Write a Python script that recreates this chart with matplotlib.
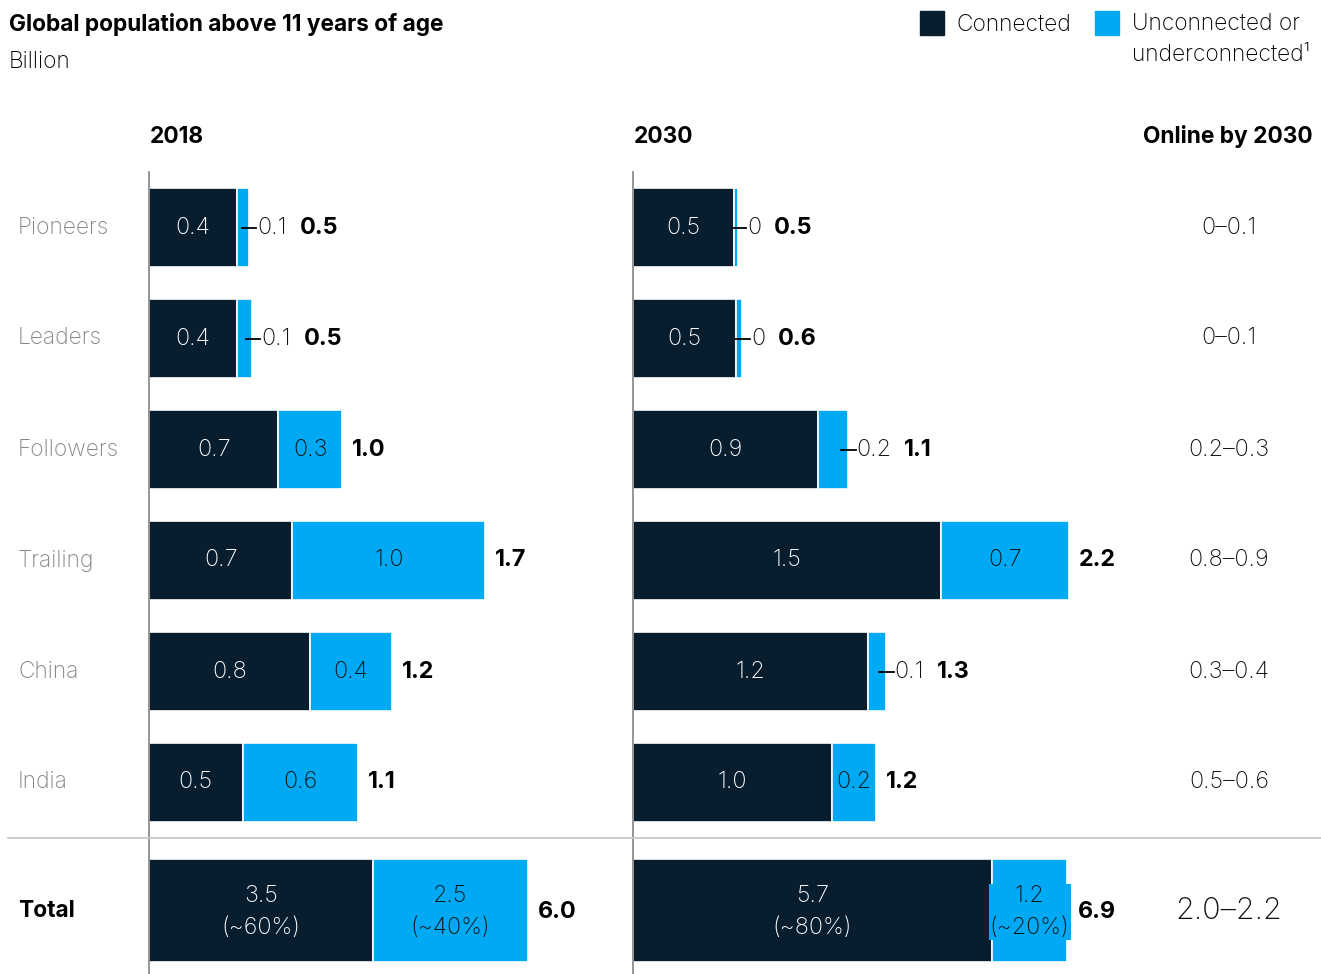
import matplotlib.pyplot as plt
from matplotlib.patches import Rectangle
from matplotlib.lines import Line2D

plt.rcParams['font.family'] = ['Inter', 'DejaVu Sans']
plt.rcParams['font.weight'] = 'light'

# ---- data (billion people) ----
segments = ["Pioneers", "Leaders", "Followers", "Trailing", "China", "India"]

# bar lengths, labels as printed
conn_2018 = [0.44, 0.44, 0.65, 0.72, 0.81, 0.47]
unconn_2018 = [0.06, 0.08, 0.32, 0.97, 0.41, 0.58]
conn_2030 = [0.51, 0.52, 0.93, 1.55, 1.18, 1.00]
unconn_2030 = [0.02, 0.03, 0.15, 0.64, 0.09, 0.22]

conn_lbl_2018 = ["0.4", "0.4", "0.7", "0.7", "0.8", "0.5"]
unconn_lbl_2018 = ["0.1", "0.1", "0.3", "1.0", "0.4", "0.6"]
total_lbl_2018 = ["0.5", "0.5", "1.0", "1.7", "1.2", "1.1"]
conn_lbl_2030 = ["0.5", "0.5", "0.9", "1.5", "1.2", "1.0"]
unconn_lbl_2030 = ["0", "0", "0.2", "0.7", "0.1", "0.2"]
total_lbl_2030 = ["0.5", "0.6", "1.1", "2.2", "1.3", "1.2"]

online_2030 = ["0\u20130.1", "0\u20130.1", "0.2\u20130.3", "0.8\u20130.9", "0.3\u20130.4", "0.5\u20130.6"]

total_conn = [3.53, 5.66]
total_unconn = [2.45, 1.19]
total_conn_lbl = ["3.5\n(~60%)", "5.7\n(~80%)"]
total_unconn_lbl = ["2.5\n(~40%)", "1.2\n(~20%)"]
total_sum_lbl = ["6.0", "6.9"]
total_online = "2.0\u20132.2"

years = ["2018", "2030"]

DARK = "#081d2e"
BLUE = "#00a9f4"
GREY = "#858585"
INK = "#111111"

W, H = 1321, 974
fig = plt.figure(figsize=(W / 100, H / 100), dpi=100)


def box(x0, y0, x1, y1):
    return [x0 / W, 1 - y1 / H, (x1 - x0) / W, (y1 - y0) / H]


PX_ROW = 199.0   # pixels per billion, segment rows
PX_TOT = 63.4    # pixels per billion, total row
FS = 16.8        # numbers
FL = 16.4        # labels


def style(ax):
    for s in ["top", "right", "bottom"]:
        ax.spines[s].set_visible(False)
    ax.spines["left"].set_color("#8c8c8c")
    ax.spines["left"].set_linewidth(1.3)
    ax.set_xticks([])
    ax.set_yticks([])
    ax.patch.set_alpha(0)


panels = [
    (149, conn_2018, unconn_2018, conn_lbl_2018, unconn_lbl_2018, total_lbl_2018),
    (633, conn_2030, unconn_2030, conn_lbl_2030, unconn_lbl_2030, total_lbl_2030),
]

for i, (x0, conn, unconn, cl, ul, tl) in enumerate(panels):
    ax = fig.add_axes(box(x0, 172, x0 + 470, 838))
    style(ax)
    ax.set_xlim(0, 470 / PX_ROW)
    ax.set_ylim(len(segments) - 0.5, -0.5)
    ys = range(len(segments))
    ax.barh(ys, conn, height=0.72, color=DARK, edgecolor="white", linewidth=1.2)
    ax.barh(ys, unconn, left=conn, height=0.72, color=BLUE, edgecolor="white", linewidth=1.2)
    for y in ys:
        end = conn[y] + unconn[y]
        ax.text(conn[y] / 2, y, cl[y], color="white", ha="center", va="center",
                fontsize=FS)
        if unconn[y] >= 0.2:
            ax.text(conn[y] + unconn[y] / 2, y, ul[y], color=INK, ha="center",
                    va="center", fontsize=FS)
            ax.text(end + 0.05, y, tl[y], color="black", ha="left", va="center",
                    fontsize=FS, fontweight="bold")
        else:
            ax.plot([end - 0.035, end + 0.04], [y, y], color="black", lw=1.3)
            small = ax.text(end + 0.045, y, ul[y], color=INK, ha="left",
                            va="center", fontsize=FS)
            ax.annotate(tl[y], xy=(1, 0.5), xycoords=small, xytext=(9, 0),
                        textcoords="offset points", ha="left", va="center",
                        fontsize=FS, fontweight="bold", color="black")

    # total row
    axt = fig.add_axes(box(x0, 838, x0 + 470, 974))
    style(axt)
    axt.set_xlim(0, 470 / PX_TOT)
    axt.set_ylim(-64, 72)
    axt.barh([0], [total_conn[i]], height=103, color=DARK, edgecolor="white", linewidth=1.2)
    axt.barh([0], [total_unconn[i]], left=[total_conn[i]], height=103, color=BLUE,
             edgecolor="white", linewidth=1.2)
    axt.text(total_conn[i] / 2, -2, total_conn_lbl[i], color="white", ha="center",
             va="center", fontsize=FS, linespacing=1.55)
    bb = None
    if total_unconn[i] < 1.5:
        bb = dict(boxstyle="square,pad=0.05", fc=BLUE, ec="none")
    axt.text(total_conn[i] + total_unconn[i] / 2, -2, total_unconn_lbl[i], color=INK,
             ha="center", va="center", fontsize=FS, linespacing=1.55, bbox=bb)
    axt.text(total_conn[i] + total_unconn[i] + 0.16, -2, total_sum_lbl[i], color="black",
             ha="left", va="center", fontsize=FS, fontweight="bold")

    fig.text((x0 + 1) / W, 1 - 137 / H, years[i], fontsize=FL, fontweight="bold",
             ha="left", va="center")

# row labels and online-by-2030 column
row_centres = [172 + 111 * (k + 0.5) for k in range(len(segments))]
for k, name in enumerate(segments):
    fig.text(18 / W, 1 - row_centres[k] / H, name, color=GREY, fontsize=FL,
             ha="left", va="center")
    fig.text(1229 / W, 1 - row_centres[k] / H, online_2030[k], color=INK,
             fontsize=FS, ha="center", va="center")
fig.text(18 / W, 1 - 911 / H, "Total", fontsize=FL, fontweight="bold", ha="left", va="center")
fig.text(1229 / W, 1 - 911 / H, total_online, fontsize=22, ha="center", va="center",
         color=INK)
fig.text(1313 / W, 1 - 137 / H, "Online by 2030", fontsize=FL, fontweight="bold",
         ha="right", va="center")

# separator line
fig.add_artist(Line2D([8 / W, 1], [1 - 838 / H, 1 - 838 / H], color="#c8c8c8", lw=1.3))

# title
fig.text(9 / W, 1 - 24 / H, "Global population above 11 years of age", fontsize=16.3,
         fontweight="bold", ha="left", va="center")
fig.text(9 / W, 1 - 62 / H, "Billion", fontsize=16.3, ha="left", va="center")

# legend
fig.add_artist(Rectangle((920 / W, 1 - 35 / H), 24 / W, 24 / H, transform=fig.transFigure,
                         color=DARK))
fig.text(957 / W, 1 - 25 / H, "Connected", fontsize=FL, ha="left", va="center")
fig.add_artist(Rectangle((1095 / W, 1 - 35 / H), 24 / W, 24 / H, transform=fig.transFigure,
                         color=BLUE))
fig.text(1132 / W, 1 - 13 / H, "Unconnected or\nunderconnected\u00b9", fontsize=FL,
         ha="left", va="top", linespacing=1.5)

fig.savefig("out.png", dpi=100)
